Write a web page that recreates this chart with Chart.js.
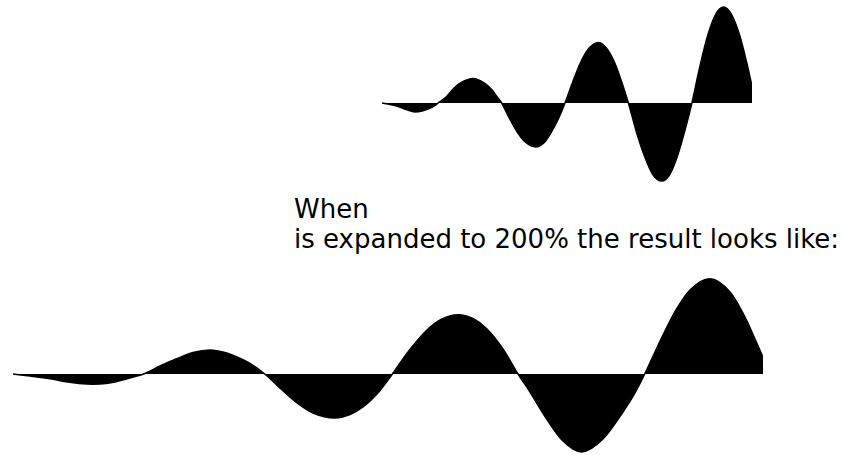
<!DOCTYPE html>
<html>
<head>
<meta charset="utf-8">
<script src="https://cdn.jsdelivr.net/npm/chart.js"></script>
<style>
    html, body { margin: 0; padding: 0; background: #fff; }
    body { width: 856px; height: 455px; position: relative; overflow: hidden; }
    #smallBox { position: absolute; left: 382px; top: 3px; width: 370px; height: 180px; }
    #largeBox { position: absolute; left: 13px; top: 274px; width: 750px; height: 180px; }
    #caption {
        position: absolute; left: 294px; top: 194px;
        font-family: "DejaVu Sans", sans-serif; font-size: 26px; line-height: 30px;
        color: #000; white-space: nowrap;
    }
</style>
</head>
<body>
<div id="smallBox"><canvas id="smallWave" width="370" height="180"></canvas></div>
<div id="caption"></div>
<div id="largeBox"><canvas id="largeWave" width="750" height="180"></canvas></div>

<script>
// Caption text
let captionLines = ['When', 'is expanded to 200% the result looks like:'];

// Original wave: sample time and amplitude
let smallTimes = [0, 8, 16, 24, 33, 40, 47, 52, 56,
    64, 72, 80, 91, 102, 110, 115, 119.5,
    127, 135, 143, 153.7, 161, 168, 176, 182.7,
    190, 198, 206, 216, 224, 232, 239, 246,
    254, 262, 270, 279.4, 287, 295, 302, 309.4,
    317, 325, 333, 341, 349, 357, 364, 369.4];
let smallValues = [0, -1.5, -3.5, -6.5, -9, -8, -5.5, -3, 0,
    6, 15, 21, 24.5, 20, 13, 6, 0,
    -15, -29, -39, -44, -40.5, -31, -16, 0,
    20, 40, 54, 60.6, 55, 41, 22, 0,
    -29, -53, -71, -78, -72, -53, -29, 0,
    35, 67, 88.5, 96, 88.5, 68, 41, 17];

// Expanded (200%) wave
let largeTimes = [0, 17, 37, 53, 66, 80, 93, 103, 115, 124, 130.7,
    147, 163, 180, 197, 212, 224, 237, 251.7,
    268, 284, 300, 321.7, 337, 350, 364, 379.4,
    395, 413, 428, 445, 460, 474, 490, 505,
    517, 533, 550, 568.4, 590, 610, 622, 631.7,
    650, 663, 677, 696.7, 717, 733, 742, 750];
let largeValues = [0, -2, -4.7, -7.7, -9.5, -10.3, -9.5, -7.7, -4.5, -2, 0,
    8, 15, 21.5, 24, 21.5, 17, 10.5, 0,
    -15, -29, -39, -44, -40.5, -33, -20, 0,
    22, 43, 54.5, 59.3, 55.5, 45, 25, 0,
    -18, -44, -67, -78, -65, -38, -19, 0,
    39, 64, 84, 95.3, 82, 55, 35, 17];

// Amplitude range shared by both waves
let valueMin = -80;
let valueMax = 100;

// Function to turn two arrays into chart points
function toPoints(times, values) {
    return times.map((t, i) => ({ x: t, y: values[i] }));
}

// Function to draw a filled wave
function renderWave(canvasId, times, values) {
    var ctx = document.getElementById(canvasId).getContext('2d');
    new Chart(ctx, {
        type: 'line',
        data: {
            datasets: [{
                data: toPoints(times, values),
                borderColor: '#000',
                backgroundColor: '#000',
                borderWidth: 1.5,
                pointRadius: 0,
                fill: 'origin',
                cubicInterpolationMode: 'monotone'
            }]
        },
        options: {
            responsive: false,
            animation: false,
            devicePixelRatio: 1,
            layout: { padding: 0 },
            plugins: {
                legend: { display: false },
                tooltip: { enabled: false }
            },
            scales: {
                x: { type: 'linear', display: false, min: times[0], max: times[times.length - 1] },
                y: { display: false, min: valueMin, max: valueMax }
            }
        }
    });
}

// Function to write the caption
function renderCaption() {
    document.getElementById('caption').innerHTML = captionLines.join('<br>');
}

renderWave('smallWave', smallTimes, smallValues);
renderCaption();
renderWave('largeWave', largeTimes, largeValues);
</script>
</body>
</html>
